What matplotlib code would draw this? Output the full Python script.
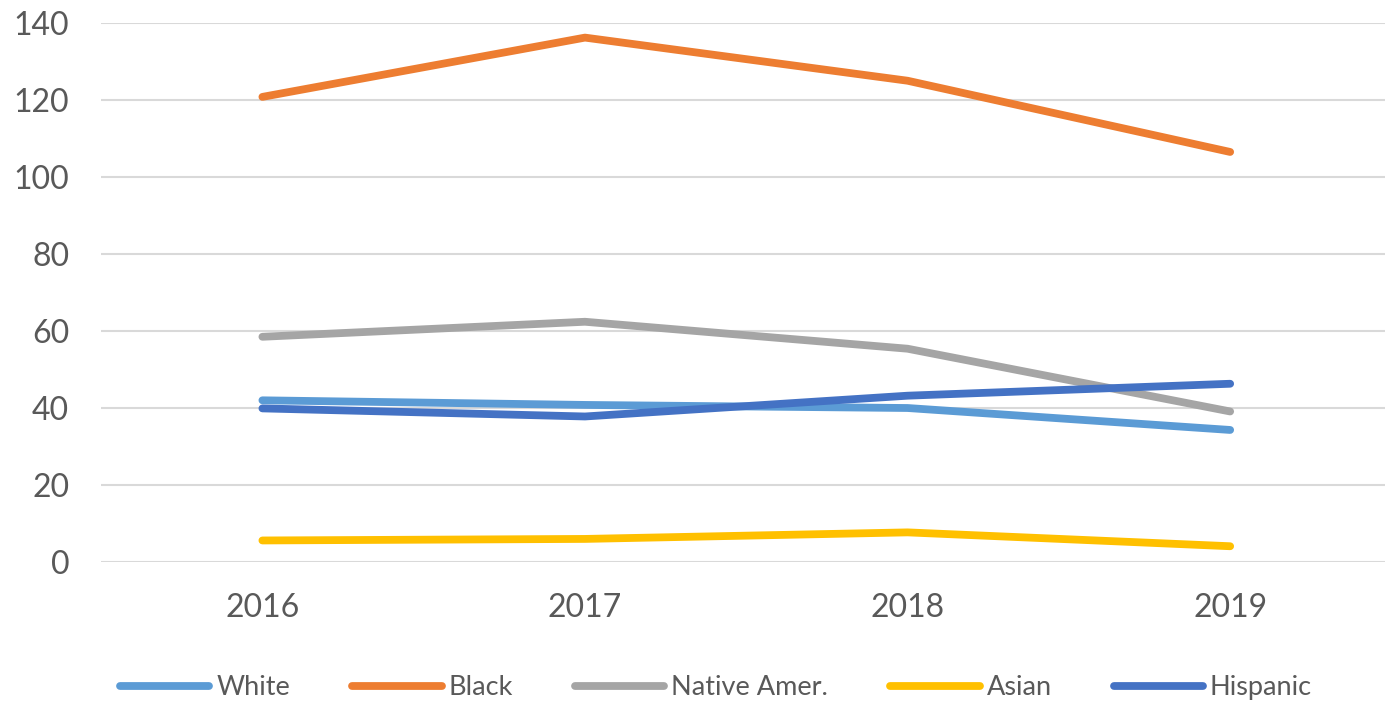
import matplotlib.pyplot as plt

plt.rcParams['font.family'] = ['Lato', 'DejaVu Sans']

years = ['2016', '2017', '2018', '2019']
white = [42.0, 40.8, 40.0, 34.3]
black = [120.8, 136.2, 125.0, 106.5]
native = [58.5, 62.4, 55.4, 39.1]
asian = [5.6, 6.0, 7.7, 4.1]
hispanic = [39.9, 37.8, 43.2, 46.3]

series = [
    ('White', white, '#5B9BD5'),
    ('Black', black, '#ED7D31'),
    ('Native Amer.', native, '#A5A5A5'),
    ('Asian', asian, '#FFC000'),
    ('Hispanic', hispanic, '#4472C4'),
]

fig = plt.figure(figsize=(13.85, 7.09), dpi=100)
ax = fig.add_axes([0.073, 0.2073, 0.927, 0.7603])

x = list(range(len(years)))
for name, vals, col in series:
    ax.plot(x, vals, color=col, linewidth=5.6, solid_capstyle='round',
            solid_joinstyle='round', label=name, zorder=3)

ax.set_xlim(-0.5, 3.48)
ax.set_ylim(0, 140)
ax.set_yticks(range(0, 141, 20))
ax.set_xticks(x)
ax.set_xticklabels(years)
ax.yaxis.grid(True, color='#D9D9D9', linewidth=1.5)
ax.set_axisbelow(True)
for s in ax.spines.values():
    s.set_visible(False)
ax.tick_params(length=0, labelsize=23, colors='#595959')
ax.tick_params(axis='x', pad=22)
ax.tick_params(axis='y', pad=23)

fig.legend(loc='center', bbox_to_anchor=(0.517, 0.03), ncol=5, frameon=False,
           fontsize=19.5, handlelength=3.3, handletextpad=0.25, columnspacing=2.3,
           labelcolor='#595959')

fig.savefig('out.png', dpi=100)
